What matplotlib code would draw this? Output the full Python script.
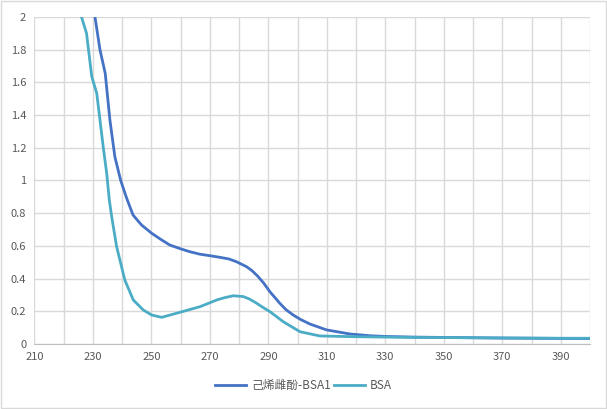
import numpy as np
import matplotlib.pyplot as plt
from matplotlib.patches import Rectangle

plt.rcParams['font.family'] = ['Noto Sans CJK SC', 'DejaVu Sans']

# 己烯雌酚-BSA1 curve
wl_des = [229.5, 230.7, 232.4, 234.2, 235.8, 237.5, 239.5, 241.5, 243.7, 246.6, 250.1, 253, 256.3,
          260, 263, 266.6, 270, 273.4, 276.5, 279.1, 282.5, 284.5, 286.5, 288.5, 290.5, 293.9,
          296, 298.5, 301, 304.2, 309.9, 317.9, 325, 330, 340, 350, 360, 370, 380, 390, 400]
abs_des = [2.2, 2.0, 1.80, 1.655, 1.37, 1.144, 1.0, 0.893, 0.789, 0.728, 0.677, 0.642, 0.605,
           0.582, 0.565, 0.549, 0.540, 0.530, 0.520, 0.503, 0.473, 0.447, 0.412, 0.37, 0.32, 0.249,
           0.21, 0.177, 0.15, 0.122, 0.086, 0.061, 0.05, 0.046, 0.042, 0.040, 0.038, 0.036, 0.035, 0.034, 0.033]

# BSA curve
wl_bsa = [224.5, 226.1, 227.8, 229.6, 231.3, 233.5, 234.7, 235.6, 236.4, 238.1, 240.9, 243.8,
          247.2, 250.1, 253.5, 258.6, 262, 266.6, 269, 272.3, 275, 278.0, 281.4, 283.5, 286.0,
          288, 290.5, 295.1, 300.8, 307.6, 317.9, 330, 340, 350, 360, 370, 380, 390, 400]
abs_bsa = [2.3, 2.0, 1.90, 1.635, 1.533, 1.207, 1.044, 0.88, 0.779, 0.595, 0.391, 0.269,
           0.208, 0.177, 0.163, 0.188, 0.205, 0.228, 0.245, 0.269, 0.283, 0.295, 0.29, 0.275, 0.249,
           0.225, 0.198, 0.136, 0.075, 0.049, 0.045, 0.042, 0.04, 0.039, 0.038, 0.037, 0.036, 0.035, 0.035]

label_des = '己烯雌酚-BSA1'
label_bsa = 'BSA'

fig = plt.figure(figsize=(6.07, 4.09), dpi=100)
ax = fig.add_axes([0.0568, 0.159, 0.9152, 0.7994])

ax.plot(wl_des, abs_des, color='#4472C4', lw=2.0, label=label_des)
ax.plot(wl_bsa, abs_bsa, color='#4BACC6', lw=2.0, label=label_bsa)

ax.set_xlim(210, 400)
ax.set_ylim(0, 2)
ax.set_xticks(np.arange(210, 400, 20))
ax.set_xticks(np.arange(210, 401, 10), minor=True)
ax.set_yticks(np.arange(0, 2.01, 0.2))
ax.set_yticklabels(['0', '0.2', '0.4', '0.6', '0.8', '1', '1.2', '1.4', '1.6', '1.8', '2'])
ax.grid(True, which='both', axis='x', color='#D9D9D9', lw=1)
ax.grid(True, which='major', axis='y', color='#D9D9D9', lw=1)
ax.set_axisbelow(True)
ax.tick_params(which='both', length=0, labelsize=8, colors='#595959', pad=6)
for s in ['top', 'right', 'left']:
    ax.spines[s].set_visible(False)
ax.spines['bottom'].set_color('#BFBFBF')

fig.legend(loc='center', bbox_to_anchor=(0.5, 0.057), ncol=2, frameon=False,
           fontsize=8.5, handlelength=2.6, columnspacing=0.3, handletextpad=0.4,
           labelcolor='#595959')

fig.patches.append(Rectangle((0.002, 0.002), 0.996, 0.996, transform=fig.transFigure,
                             fill=False, edgecolor='#D9D9D9', lw=1))

fig.savefig('out.png', dpi=100)
